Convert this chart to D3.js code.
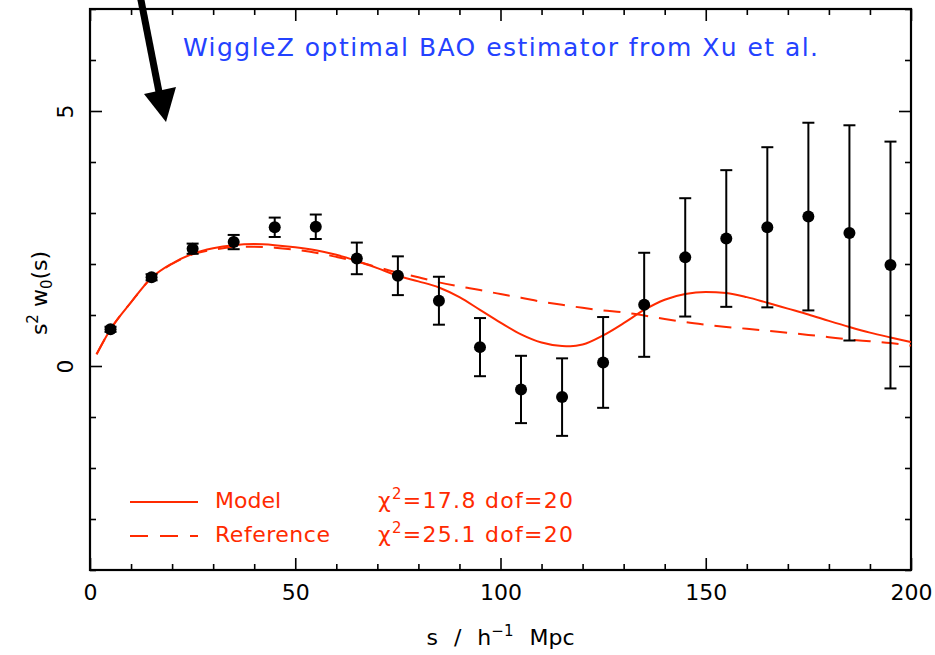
<!DOCTYPE html>
<html>
<head>
<meta charset="utf-8">
<script src="https://cdn.jsdelivr.net/npm/d3@7"></script>
<style>
  html, body { margin: 0; padding: 0; background: #fff; }
  svg { display: block; }
  text { font-family: "DejaVu Sans", sans-serif; }
</style>
</head>
<body>
<svg id="chart" width="935" height="655"></svg>
<script>
// Measured correlation-function multipole s^2 w0(s) with 1-sigma errors
const sep = [5, 15, 25, 35, 45, 55, 65, 75, 85, 95, 105, 115, 125, 135, 145, 155, 165, 175, 185, 195];
const s2w0 = [0.72, 1.74, 2.30, 2.43, 2.72, 2.73, 2.11, 1.77, 1.28, 0.37, -0.46, -0.61, 0.07, 1.20, 2.13, 2.50, 2.72, 2.93, 2.61, 1.98];
const s2w0Err = [0.05, 0.06, 0.10, 0.14, 0.19, 0.24, 0.31, 0.38, 0.47, 0.57, 0.66, 0.76, 0.89, 1.02, 1.16, 1.34, 1.57, 1.84, 2.11, 2.42];

// Best-fit BAO model curve
const modelS = [1.6, 5, 10, 15, 20, 25, 30, 35, 40, 45, 50, 55, 60, 65, 70, 75, 80, 85, 90, 95, 100, 105, 110, 115, 117, 120, 125, 130, 135, 140, 145, 150, 155, 160, 165, 170, 175, 180, 185, 190, 195, 200];
const modelV = [0.23, 0.72, 1.25, 1.73, 2.01, 2.20, 2.31, 2.37, 2.39, 2.37, 2.33, 2.27, 2.18, 2.06, 1.92, 1.77, 1.66, 1.54, 1.35, 1.10, 0.85, 0.62, 0.46, 0.39, 0.385, 0.42, 0.60, 0.84, 1.10, 1.30, 1.41, 1.45, 1.43, 1.35, 1.24, 1.125, 1.01, 0.885, 0.765, 0.655, 0.56, 0.47];

// No-wiggle reference curve
const refS = [1.6, 5, 10, 15, 20, 25, 30, 35, 40, 45, 50, 55, 60, 65, 70, 75, 80, 85, 90, 95, 100, 105, 110, 115, 120, 125, 130, 135, 140, 145, 150, 155, 160, 165, 170, 175, 180, 185, 190, 195, 200];
const refV = [0.23, 0.72, 1.25, 1.73, 2.00, 2.19, 2.28, 2.33, 2.34, 2.32, 2.28, 2.22, 2.14, 2.05, 1.94, 1.83, 1.74, 1.64, 1.56, 1.49, 1.41, 1.34, 1.26, 1.20, 1.14, 1.09, 1.05, 0.99, 0.92, 0.86, 0.81, 0.765, 0.73, 0.69, 0.65, 0.61, 0.565, 0.52, 0.485, 0.45, 0.40];

const xMajor = [0, 50, 100, 150, 200];
const yMajor = [0, 5];

const RED = "#ff2a00";
const BLUE = "#2442ff";

const svg = d3.select("#chart");
const x = d3.scaleLinear().domain([0, 200]).range([90, 911]);
const y = d3.scaleLinear().domain([-4, 7]).range([570, 9]);

const xMinor = d3.range(0, 201, 10).filter(v => !xMajor.includes(v));
const yMinor = d3.range(-4, 8, 1).filter(v => !yMajor.includes(v));

const plotBottom = y.range()[0], plotTop = y.range()[1];
const plotLeft = x.range()[0], plotRight = x.range()[1];

// Frame ticks on all four sides, pointing inward
function tickAxis(gen, scale, vals, size, tx, ty) {
  const g = svg.append("g")
    .attr("transform", `translate(${tx},${ty})`)
    .call(gen(scale).tickValues(vals).tickSize(-size).tickFormat(""));
  g.select(".domain").remove();
  g.selectAll(".tick line").attr("stroke", "#000").attr("stroke-width", 1.6);
  return g;
}
tickAxis(d3.axisBottom, x, xMajor, 12, 0, plotBottom);
tickAxis(d3.axisBottom, x, xMinor, 6, 0, plotBottom);
tickAxis(d3.axisTop, x, xMajor, 12, 0, plotTop);
tickAxis(d3.axisTop, x, xMinor, 6, 0, plotTop);
tickAxis(d3.axisLeft, y, yMajor, 12, plotLeft, 0);
tickAxis(d3.axisLeft, y, yMinor, 6, plotLeft, 0);
tickAxis(d3.axisRight, y, yMajor, 12, plotRight, 0);
tickAxis(d3.axisRight, y, yMinor, 6, plotRight, 0);

// Tick labels
const xl = svg.append("g").attr("transform", `translate(0,${plotBottom})`)
  .call(d3.axisBottom(x).tickValues(xMajor).tickSize(0).tickPadding(14).tickFormat(d3.format("d")));
xl.select(".domain").remove();
xl.selectAll("text").attr("font-size", 22).attr("font-family", "DejaVu Sans").attr("fill", "#000");

const yl = svg.append("g").attr("transform", `translate(${plotLeft},0)`)
  .call(d3.axisLeft(y).tickValues(yMajor).tickSize(0).tickFormat(d3.format("d")));
yl.select(".domain").remove();
yl.selectAll(".tick text")
  .attr("font-size", 22).attr("font-family", "DejaVu Sans").attr("fill", "#000")
  .attr("x", null).attr("dy", null)
  .attr("text-anchor", "middle")
  .attr("transform", "translate(-17,0) rotate(-90)");

// Frame
svg.append("rect")
  .attr("x", plotLeft).attr("y", plotTop)
  .attr("width", plotRight - plotLeft).attr("height", plotBottom - plotTop)
  .attr("fill", "none").attr("stroke", "#000").attr("stroke-width", 2.2);

// Curves
svg.append("clipPath").attr("id", "plotclip")
  .append("rect").attr("x", plotLeft).attr("y", plotTop)
  .attr("width", plotRight - plotLeft).attr("height", plotBottom - plotTop);
const line = d3.line().curve(d3.curveMonotoneX);
svg.append("path")
  .attr("d", line(refS.map((s, i) => [x(s), y(refV[i])])))
  .attr("fill", "none").attr("stroke", RED).attr("stroke-width", 2)
  .attr("stroke-dasharray", "17,11").attr("clip-path", "url(#plotclip)");
svg.append("path")
  .attr("d", line(modelS.map((s, i) => [x(s), y(modelV[i])])))
  .attr("fill", "none").attr("stroke", RED).attr("stroke-width", 2)
  .attr("clip-path", "url(#plotclip)");

// Data points with error bars
const pts = svg.append("g");
const capW = 6;
sep.forEach((s, i) => {
  const cx = x(s), lo = y(s2w0[i] - s2w0Err[i]), hi = y(s2w0[i] + s2w0Err[i]);
  const g = pts.append("g").attr("stroke", "#000").attr("stroke-width", 2);
  g.append("line").attr("x1", cx).attr("x2", cx).attr("y1", lo).attr("y2", hi);
  g.append("line").attr("x1", cx - capW).attr("x2", cx + capW).attr("y1", lo).attr("y2", lo);
  g.append("line").attr("x1", cx - capW).attr("x2", cx + capW).attr("y1", hi).attr("y2", hi);
  pts.append("circle").attr("cx", cx).attr("cy", y(s2w0[i])).attr("r", 6).attr("fill", "#000");
});

// Axis titles
svg.append("text")
  .attr("x", (plotLeft + plotRight) / 2).attr("y", 645)
  .attr("text-anchor", "middle")
  .attr("font-size", 22).attr("word-spacing", 9)
  .call(t => {
    t.append("tspan").text("s / h");
    t.append("tspan").attr("dy", -9).attr("font-size", 15).text("\u22121");
    t.append("tspan").attr("dy", 9).text(" Mpc");
  });

svg.append("text")
  .attr("transform", "translate(47,293) rotate(-90)")
  .attr("text-anchor", "middle").attr("font-size", 22)
  .call(t => {
    t.append("tspan").text("s");
    t.append("tspan").attr("dy", -9).attr("font-size", 15).text("2");
    t.append("tspan").attr("dy", 9).text(" w");
    t.append("tspan").attr("dy", 5).attr("font-size", 15).text("0");
    t.append("tspan").attr("dy", -5).text("(s)");
  });

// Title
svg.append("text")
  .attr("x", 183).attr("y", 56)
  .attr("font-size", 25).attr("fill", BLUE)
  .attr("textLength", 635).attr("lengthAdjust", "spacing")
  .text("WiggleZ optimal BAO estimator from Xu et al.");

// Legend
svg.append("line").attr("x1", 130).attr("x2", 198).attr("y1", 502).attr("y2", 502)
  .attr("stroke", RED).attr("stroke-width", 2);
svg.append("line").attr("x1", 130).attr("x2", 198).attr("y1", 536).attr("y2", 536)
  .attr("stroke", RED).attr("stroke-width", 2).attr("stroke-dasharray", "18,12");
svg.append("text").attr("x", 215).attr("y", 508).attr("font-size", 22).attr("fill", RED).text("Model");
svg.append("text").attr("x", 215).attr("y", 542).attr("font-size", 22).attr("fill", RED)
  .attr("textLength", 115).attr("lengthAdjust", "spacing").text("Reference");

function chiLabel(yPos, chi) {
  svg.append("text").attr("x", 378).attr("y", yPos).attr("font-size", 22).attr("fill", RED)
    .attr("textLength", 195).attr("lengthAdjust", "spacing")
    .call(t => {
      t.append("tspan").text("\u03c7");
      t.append("tspan").attr("dy", -9).attr("font-size", 15).text("2");
      t.append("tspan").attr("dy", 9).text(`=${chi} dof=20`);
    });
}
chiLabel(508, "17.8");
chiLabel(542, "25.1");

// Arrow pointing into the plot
svg.append("line").attr("x1", 139).attr("y1", -10).attr("x2", 159).attr("y2", 92)
  .attr("stroke", "#000").attr("stroke-width", 7);
svg.append("path").attr("d", "M144,94 L176,87 L166,122 Z").attr("fill", "#000");
</script>
</body>
</html>
